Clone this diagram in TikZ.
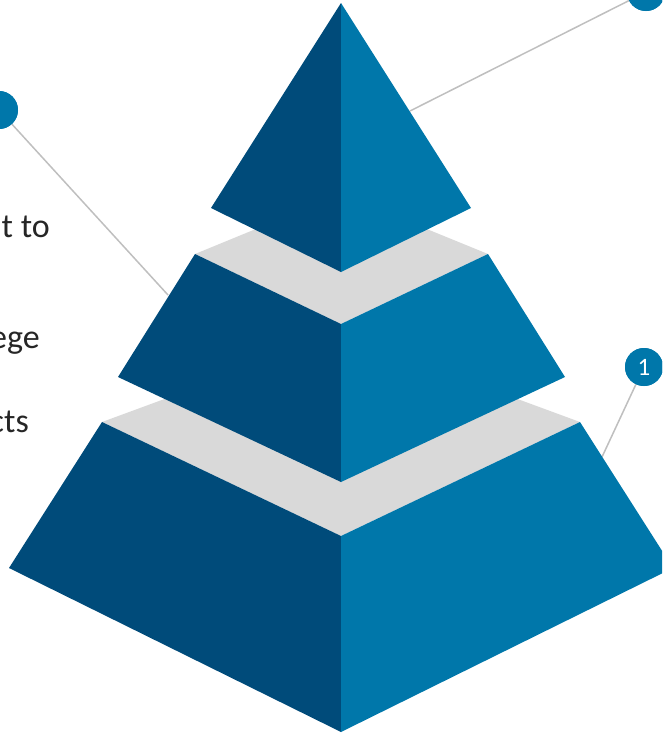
\documentclass[tikz,border=0pt]{standalone}
\usepackage{fontspec}
\setmainfont{Carlito}
\definecolor{darkface}{HTML}{004B7A}
\definecolor{lightface}{HTML}{0077AA}
\definecolor{topgray}{HTML}{D9D9D9}
\definecolor{linkgray}{HTML}{BFBFBF}
\definecolor{txt}{HTML}{262626}
\tikzset{
  leftface/.style={fill=darkface},
  rightface/.style={fill=lightface},
  topface/.style={fill=topgray},
  badge/.style={circle, fill=lightface, minimum size=38pt, inner sep=0pt, text=white, font=\fontsize{25}{28}\selectfont},
  link/.style={draw=linkgray, line width=1.5pt},
  bodytext/.style={anchor=base east, inner sep=0pt, text=txt, font=\fontsize{34}{40}\selectfont}
}
\begin{document}
\begin{tikzpicture}[x=1pt,y=-1pt]
\useasboundingbox (0,0) rectangle (662,734);
\clip (0,0) rectangle (662,734);
% badges and connectors
\node[badge] (b3) at (-1,110) {};
\node[badge] (b2) at (646,-8) {};
\node[badge] (b1) at (644,367) {1};
\coordinate (e3) at (168,295);
\coordinate (e2) at (410,111);
\coordinate (e1) at (602,457);
\draw[link] (b3) -- (e3);
\draw[link] (b2) -- (e2);
\draw[link] (b1) -- (e1);
% bottom tier
\fill[topface] (102,422) -- (341,334) -- (580,422) -- (341,536) -- cycle;
\fill[leftface] (102,422) -- (9,568) -- (341,732) -- (341,536) -- cycle;
\fill[rightface] (341,536) -- (580,422) -- (673,568) -- (341,732) -- cycle;
% middle tier
\fill[topface] (195,254) -- (341,194) -- (488,254) -- (341,324) -- cycle;
\fill[leftface] (195,254) -- (118,377) -- (341,482) -- (341,324) -- cycle;
\fill[rightface] (341,324) -- (488,254) -- (565,377) -- (341,482) -- cycle;
% top
\fill[leftface] (341,3) -- (211,208) -- (341,272) -- cycle;
\fill[rightface] (341,3) -- (471,208) -- (341,272) -- cycle;
% badges above their connectors
\node[badge] at (b3) {};
\node[badge] at (b2) {};
\node[badge] at (b1) {1};
% text
\node[bodytext] (t1) at (50,237) {t to};
\node[bodytext] (t2) at (40,348) {ege};
\node[bodytext] (t3) at (29,432) {cts};
\end{tikzpicture}
\end{document}
